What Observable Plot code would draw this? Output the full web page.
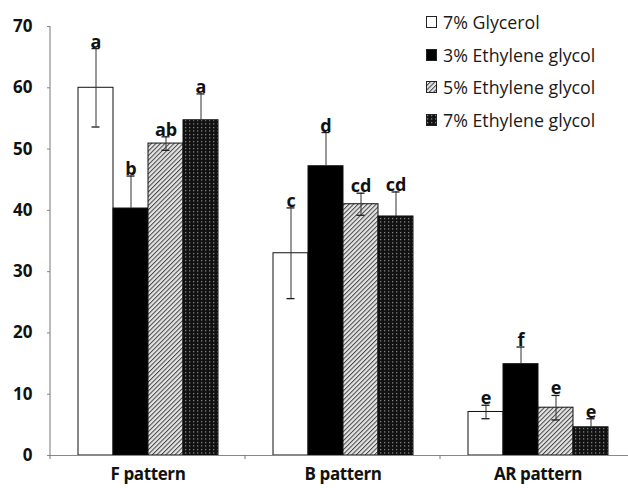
<!DOCTYPE html>
<html><head><meta charset="utf-8">
<script src="https://cdn.jsdelivr.net/npm/d3@7"></script>
<script src="https://cdn.jsdelivr.net/npm/@observablehq/plot@0.6"></script>
<style>
body{margin:0;background:#fff;font-family:"Open Sans",sans-serif}
#wrap{position:relative;width:628px;height:488px;overflow:hidden}
#legend{position:absolute;left:426px;top:6px;font-size:17.8px;color:#1a1a1a}
.row{display:flex;align-items:center;height:32.5px;white-space:nowrap}
.row svg{margin-right:6px}
</style></head><body><div id="wrap"><div id="legend"></div></div>
<script>
const categories = ["F pattern", "B pattern", "AR pattern"];
const series = ["7% Glycerol", "3% Ethylene glycol", "5% Ethylene glycol", "7% Ethylene glycol"];
const glycerol7 = [60.0, 33.0, 7.1];
const eg3 = [40.3, 47.2, 14.9];
const eg5 = [50.9, 41.0, 7.8];
const eg7 = [54.7, 39.0, 4.6];
const glycerol7Err = [6.4, 7.4, 1.1];
const eg3Err = [5.3, 5.5, 2.8];
const eg5Err = [1.1, 1.8, 2.0];
const eg7Err = [4.3, 4.0, 1.4];
const glycerol7Letters = ["a", "c", "e"];
const eg3Letters = ["b", "d", "f"];
const eg5Letters = ["ab", "cd", "e"];
const eg7Letters = ["a", "cd", "e"];
const yTicks = [0, 10, 20, 30, 40, 50, 60, 70];
const fills = ["white", "black", "url(#hatch)", "url(#dots)"];
const darkSeries = ["3% Ethylene glycol", "7% Ethylene glycol"];

const valueSets = [glycerol7, eg3, eg5, eg7];
const errSets = [glycerol7Err, eg3Err, eg5Err, eg7Err];
const letterSets = [glycerol7Letters, eg3Letters, eg5Letters, eg7Letters];
const data = [];
categories.forEach((c, ci) => series.forEach((s, si) => {
  const v = valueSets[si][ci], e = errSets[si][ci];
  data.push({category: c, series: s, value: v, lo: v - e, hi: v + e, letter: letterSets[si][ci]});
}));
const lightData = data.filter(d => !darkSeries.includes(d.series));

const plot = Plot.plot({
  width: 628, height: 488,
  marginLeft: 50, marginRight: 0, marginTop: 26, marginBottom: 33,
  style: {fontFamily: "Open Sans, sans-serif", background: "white"},
  fx: {domain: categories, range: [50, 635], paddingInner: 0, paddingOuter: 0},
  x: {domain: series, paddingInner: 0, paddingOuter: 0.75, axis: null},
  y: {domain: [0, 70]},
  color: {domain: series, range: fills},
  marks: [
    Plot.barY(data, {fx: "category", x: "series", y: "value", fill: "series", stroke: "#111", strokeWidth: 1}),
    Plot.ruleX(data, {fx: "category", x: "series", y1: "value", y2: "hi", stroke: "#333", strokeWidth: 1}),
    Plot.ruleX(lightData, {fx: "category", x: "series", y1: "lo", y2: "value", stroke: "#333", strokeWidth: 1}),
    Plot.tickY(data, {fx: "category", x: "series", y: "hi", stroke: "#1a1a1a", strokeWidth: 1.3, insetLeft: 13.5, insetRight: 13.5}),
    Plot.tickY(lightData, {fx: "category", x: "series", y: "lo", stroke: "#1a1a1a", strokeWidth: 1.3, insetLeft: 13.5, insetRight: 13.5}),
    Plot.text(data, {fx: "category", x: "series", y: "hi", text: "letter", dy: -1, lineAnchor: "bottom", fontWeight: "bold", fontSize: 18, fill: "#111"}),
    Plot.ruleY([0], {stroke: "#888"}),
    Plot.axisY({ticks: yTicks, tickSize: 3, tickPadding: 15, fontWeight: "bold", fontSize: 17, label: null, stroke: "#888", color: "#111"}),
    Plot.axisFx({anchor: "bottom", tickSize: 0, tickPadding: 12, fontWeight: "bold", fontSize: 17, label: null, color: "#111"})
  ]
});

const svg = d3.select(plot);
svg.selectAll("[aria-label='fx-axis tick label'] text").style("letter-spacing", "-0.4px");
const defs = svg.insert("defs", ":first-child");
const hatch = defs.append("pattern").attr("id", "hatch").attr("patternUnits", "userSpaceOnUse")
  .attr("width", 3.2).attr("height", 3.2).attr("patternTransform", "rotate(45)");
hatch.append("rect").attr("width", 3.2).attr("height", 3.2).attr("fill", "#e4e4e4");
hatch.append("line").attr("x1", 0.5).attr("x2", 0.5).attr("y1", 0).attr("y2", 3.2).attr("stroke", "#444").attr("stroke-width", 1);
const dots = defs.append("pattern").attr("id", "dots").attr("patternUnits", "userSpaceOnUse")
  .attr("width", 4).attr("height", 3.5);
dots.append("rect").attr("width", 4).attr("height", 3.5).attr("fill", "#111");
dots.append("rect").attr("x", 1).attr("y", 1).attr("width", 1.3).attr("height", 1).attr("fill", "#aaa");

const y = plot.scale("y"), fx = plot.scale("fx");
const y0 = y.apply(0), y1 = y.apply(70);
svg.append("line").attr("x1", 50).attr("x2", 50).attr("y1", y0).attr("y2", y1).attr("stroke", "#777");
categories.forEach(c => {
  const xx = fx.apply(c);
  svg.append("line").attr("x1", xx).attr("x2", xx).attr("y1", y0).attr("y2", y0 + 4).attr("stroke", "#777");
});

const wrap = document.getElementById("wrap");
wrap.insertBefore(plot, wrap.firstChild);
plot.style.position = "absolute"; plot.style.left = "0"; plot.style.top = "0";

const legend = d3.select("#legend");
series.forEach((s, i) => {
  const row = legend.append("div").attr("class", "row");
  const sw = row.append("svg").attr("width", 11).attr("height", 12);
  sw.append("rect").attr("x", 0.5).attr("y", 0.5).attr("width", 10).attr("height", 11)
    .attr("fill", fills[i]).attr("stroke", "#222");
  row.append("span").text(s);
});
</script></body></html>
